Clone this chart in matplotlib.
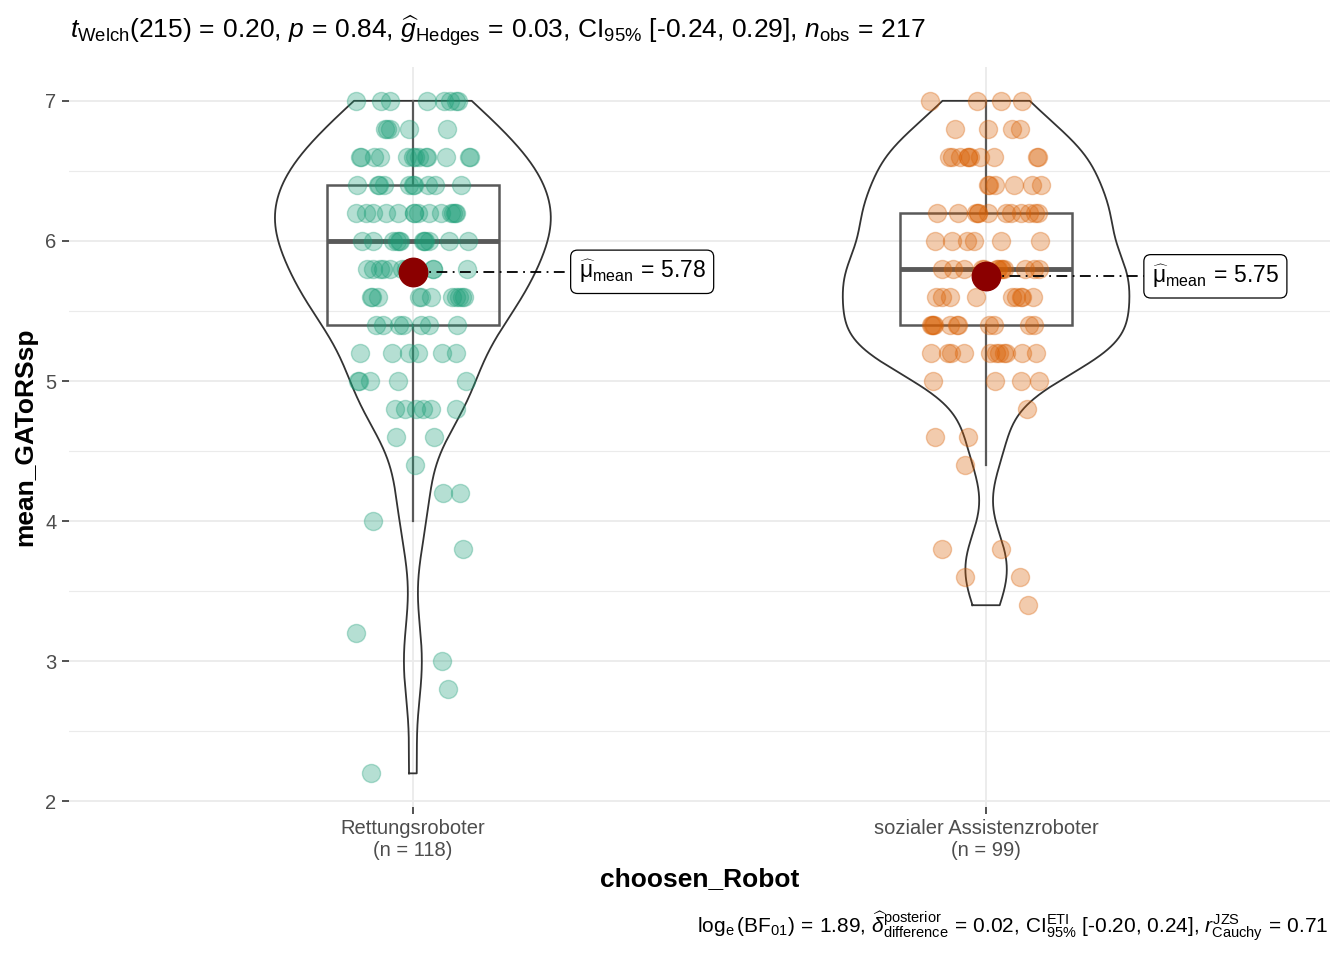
import numpy as np
import matplotlib
matplotlib.use("Agg")
import matplotlib.pyplot as plt

plt.rcParams['font.family'] = ['Liberation Sans', 'DejaVu Sans']
plt.rcParams['mathtext.fontset'] = 'custom'
plt.rcParams['mathtext.rm'] = 'Liberation Sans'
plt.rcParams['mathtext.it'] = 'Liberation Sans:italic'
plt.rcParams['mathtext.bf'] = 'Liberation Sans:bold'

# ---- data ----
categories = ["Rettungsroboter", "sozialer Assistenzroboter"]
n_labels = ["(n = 118)", "(n = 99)"]
levels_1 = [7.0, 6.8, 6.6, 6.4, 6.2, 6.0, 5.8, 5.6, 5.4, 5.2, 5.0, 4.8, 4.6, 4.4, 4.2, 4.0, 3.8, 3.2, 3.0, 2.8, 2.2]
counts_1 = [8, 5, 13, 10, 14, 12, 10, 11, 7, 6, 5, 6, 2, 1, 2, 1, 1, 1, 1, 1, 1]
levels_2 = [7.0, 6.8, 6.6, 6.4, 6.2, 6.0, 5.8, 5.6, 5.4, 5.2, 5.0, 4.8, 4.6, 4.4, 3.8, 3.6, 3.4]
counts_2 = [4, 4, 10, 6, 12, 6, 13, 9, 11, 11, 4, 1, 2, 1, 2, 2, 1]
colors = ["#1B9E77", "#D95F02"]
yticks = [2, 3, 4, 5, 6, 7]

subtitle = (r"$t_{\mathrm{Welch}}(215)\,=\,0.20$, $p\,=\,0.84$, $\widehat{g}_{\mathrm{Hedges}}\,=\,0.03$, "
            r"$\mathrm{CI}_{95\%}$ [-0.24, 0.29], $n_{\mathrm{obs}}\,=\,217$")
caption = (r"$\log_{\mathrm{e}}(\mathrm{BF}_{01})\,=\,1.89$, "
           r"$\widehat{\delta}_{\mathrm{difference}}^{\mathrm{posterior}}\,=\,0.02$, "
           r"$\mathrm{CI}_{95\%}^{\mathrm{ETI}}$ [-0.20, 0.24], "
           r"$r_{\mathrm{Cauchy}}^{\mathrm{JZS}}\,=\,0.71$")

groups = [np.repeat(levels_1, counts_1), np.repeat(levels_2, counts_2)]

fig = plt.figure(figsize=(13.44, 9.6), dpi=100)
ax = fig.add_axes([0.0513, 0.1594, 0.9383, 0.7706])

def kde(x, grid):
    x = np.asarray(x, float)
    n = len(x)
    sd = x.std(ddof=1)
    q75, q25 = np.percentile(x, [75, 25])
    bw = 0.9 * min(sd, (q75 - q25) / 1.34) * n ** (-0.2)
    d = np.exp(-0.5 * ((grid[:, None] - x[None, :]) / bw) ** 2).sum(1)
    return d / (n * bw * np.sqrt(2 * np.pi))

grids, dens = [], []
for g in groups:
    gr = np.linspace(g.min(), g.max(), 512)
    grids.append(gr)
    dens.append(kde(g, gr))
maxd = max(d.max() for d in dens)

rng = np.random.default_rng(7)
for i, g in enumerate(groups):
    pos = i + 1
    # violin
    hw = 0.25 * dens[i] / maxd
    xs = np.concatenate([pos - hw, (pos + hw)[::-1], [pos - hw[0]]])
    ys = np.concatenate([grids[i], grids[i][::-1], [grids[i][0]]])
    ax.plot(xs, ys, color="#333333", lw=1.3, zorder=3)
    # boxplot
    ax.boxplot([g], positions=[pos], widths=0.3, whis=1.5, showfliers=False,
               showcaps=False, patch_artist=True,
               boxprops=dict(facecolor="none", edgecolor="#595959", lw=1.8),
               whiskerprops=dict(color="#595959", lw=1.6),
               medianprops=dict(color="#595959", lw=3.5),
               zorder=4)
    # jittered points
    jit = rng.uniform(-0.1, 0.1, len(g))
    ax.scatter(pos + jit, g, s=170, color=colors[i], alpha=0.32,
               edgecolors=colors[i], linewidths=1.0, zorder=5)
    # mean
    m = g.mean()
    ax.scatter([pos], [m], s=420, color="#8B0000", zorder=7)
    ax.plot([pos, pos + 0.4], [m, m], color="black", lw=1.3,
            ls=(0, (6, 3, 1, 3)), zorder=6)
    ax.text(pos + 0.4, m, r"$\widehat{\mathrm{μ}}_{\mathrm{mean}}\,=\,%.2f$" % m,
            fontsize=16.5, ha="center", va="center", zorder=8,
            bbox=dict(boxstyle="round,pad=0.35,rounding_size=0.3",
                      fc="white", ec="black", lw=0.9))

ax.set_xlim(0.4, 2.6)
ax.set_ylim(1.96, 7.24)
ax.set_yticks(yticks)
ax.set_yticks([2.5, 3.5, 4.5, 5.5, 6.5], minor=True)
ax.set_xticks([1, 2])
ax.set_xticklabels([f"{c}\n{n}" for c, n in zip(categories, n_labels)],
                   fontsize=14.5, color="#4D4D4D", linespacing=1.2)
ax.tick_params(axis="y", labelsize=14.5, labelcolor="#4D4D4D", length=5,
               width=1.2, color="#333333", pad=4)
ax.tick_params(axis="x", length=5, width=1.2, color="#333333", pad=4)
ax.tick_params(which="minor", length=0)
ax.grid(True, which="major", color="#EBEBEB", lw=1.3, zorder=0)
ax.grid(True, which="minor", axis="y", color="#EBEBEB", lw=0.8, zorder=0)
ax.set_axisbelow(True)
for s in ax.spines.values():
    s.set_visible(False)

ax.set_xlabel("choosen_Robot", fontsize=19, fontweight="bold", labelpad=5)
ax.set_ylabel("mean_GAToRSsp", fontsize=19, fontweight="bold", labelpad=6)

fig.text(0.052, 0.967, subtitle, fontsize=19, ha="left", va="center")
fig.text(0.988, 0.035, caption, fontsize=15, ha="right", va="center")

fig.savefig("out.png", dpi=100, facecolor="white")
